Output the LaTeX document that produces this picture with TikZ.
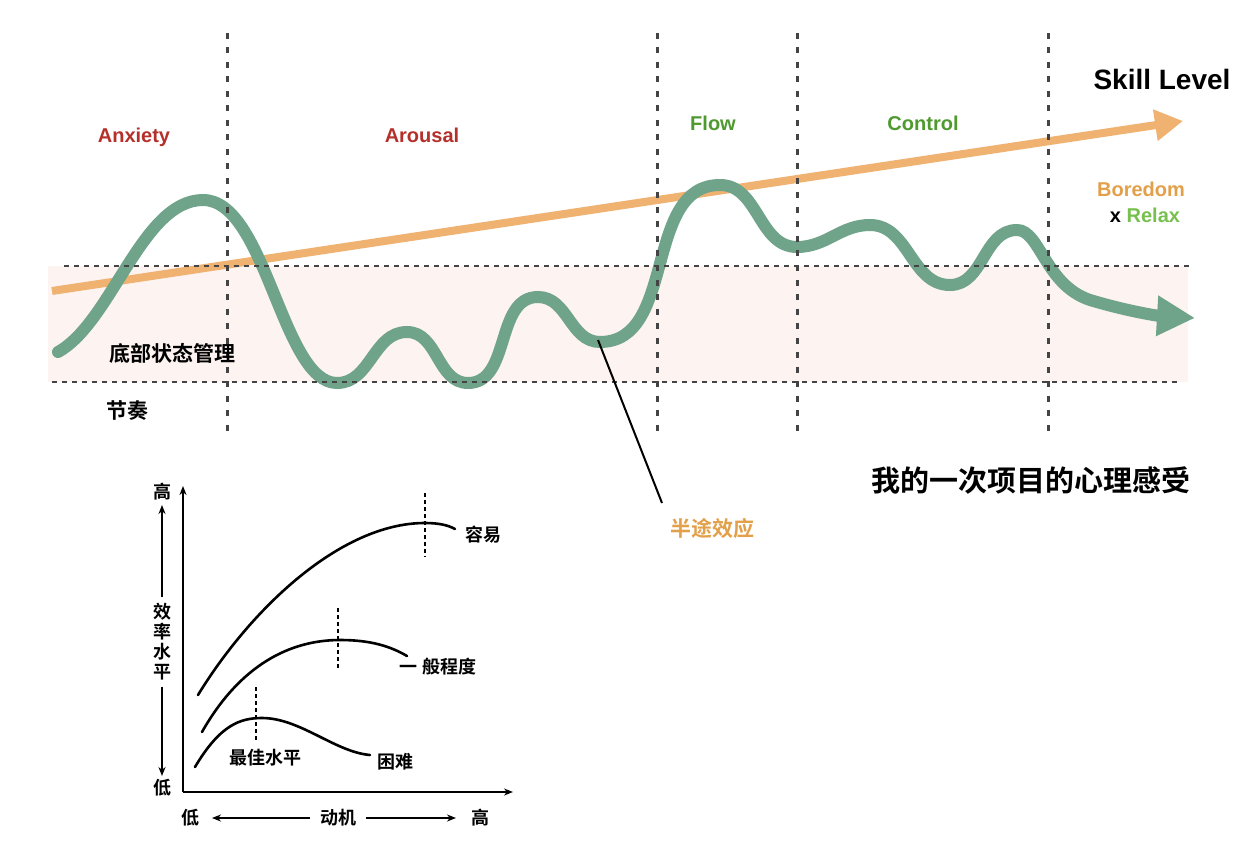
\documentclass[tikz,border=0pt]{standalone}
\usepackage{fontspec}
\setmainfont{Liberation Sans}
\newfontfamily\cjk{Noto Sans CJK SC}[BoldFont={Noto Sans CJK SC Bold}]
\usetikzlibrary{arrows.meta}
\definecolor{bandpink}{HTML}{FDF3F1}
\definecolor{dkred}{HTML}{B5302A}
\definecolor{lblgreen}{HTML}{4E9A2E}
\definecolor{relaxgreen}{HTML}{77C04F}
\definecolor{skillorange}{HTML}{F0B270}
\definecolor{txtorange}{HTML}{E3A04A}
\definecolor{curvegreen}{HTML}{6FA38A}
\definecolor{dashgray}{HTML}{444444}
\tikzset{
  lat/.style={inner sep=0pt, anchor=base, font=\bfseries\fontsize{20}{24}\selectfont},
  cjklbl/.style={inner sep=0pt, anchor=center, font=\cjk\bfseries\fontsize{21}{24}\selectfont},
  chartlbl/.style={inner sep=0pt, anchor=center, font=\cjk\bfseries\fontsize{18}{20}\selectfont},
  vdash/.style={dashgray, line width=3pt, dash pattern=on 6pt off 8.5pt},
  hdash/.style={dashgray, line width=2pt, dash pattern=on 5pt off 5pt},
  chartcurve/.style={black, line width=2.6pt, line cap=round},
  chartdash/.style={black, line width=1.6pt, dash pattern=on 4pt off 3pt},
  axisline/.style={black, line width=1.6pt},
}
\begin{document}
\begin{tikzpicture}[x=1pt,y=-1pt]
\useasboundingbox (0,0) rectangle (1244,850);
\fill[white] (0,0) rectangle (1244,850);
% band
\fill[bandpink] (48,266) rectangle (1188,382);
% skill level arrow
\draw[skillorange, line width=8pt, -{Triangle[length=28pt,width=30pt]}] (52,291) -- (1183,121);
% green curve
\draw[curvegreen, line width=12pt, line cap=round, -{Triangle[length=38pt,width=38pt]}]
  (58,352) .. controls (112,322) and (142,200) .. (203,200)
  .. controls (266,200) and (282,383) .. (337,383)
  to[out=0,in=180] (407,332) to[out=0,in=180] (468,383)
  to[out=0,in=180] (538,297) to[out=0,in=180] (600,342)
  to[out=0,in=180] (720,185) to[out=0,in=180] (797,247)
  to[out=0,in=180] (870,225) to[out=0,in=180] (950,285)
  to[out=0,in=180] (1017,230)
  .. controls (1040,230) and (1045,285) .. (1090,300)
  .. controls (1130,312) and (1160,316) .. (1195,318);
% horizontal dotted lines
\draw[hdash] (64,266) -- (1191,266);
\draw[hdash] (52,382) -- (1181,382);
% vertical dashed lines
\foreach \xx in {227,657,797,1048} {\draw[vdash] (\xx,33) -- (\xx,436);}
% labels
\node[lat, text=dkred] (anx) at (134,143) {Anxiety};
\node[lat, text=dkred] (aro) at (422,143) {Arousal};
\node[lat, text=lblgreen] (flow) at (713,131) {Flow};
\node[lat, text=lblgreen] (ctrl) at (923,131) {Control};
\node[lat, font=\bfseries\fontsize{28}{32}\selectfont] (skill) at (1162,90) {Skill Level};
\node[lat, text=txtorange] (bore) at (1141,197) {Boredom};
\node[lat] (relax) at (1145,223) {x \textcolor{relaxgreen}{Relax}};
\node[cjklbl] (bottom) at (172,353) {底部状态管理};
\node[cjklbl] (rhythm) at (127,411) {节奏};
\node[cjklbl, text=txtorange] (half) at (712,528) {半途效应};
\node[cjklbl, font=\cjk\bfseries\fontsize{29}{32}\selectfont] (title) at (1031,481) {我的一次项目的心理感受};
\coordinate (dip) at (598,340);
\coordinate (halfend) at (662,503);
\draw[black, line width=2pt] (dip) -- (halfend);
% ---- bottom chart ----
\coordinate (orig) at (183,792);
\coordinate (ytop) at (183,486);
\coordinate (xend) at (513,792);
\draw[axisline, -{Stealth[length=9pt,width=7pt]}] (orig) -- (ytop);
\draw[axisline, -{Stealth[length=9pt,width=7pt]}] (orig) -- (xend);
% curves
\draw[chartcurve] (198,695) .. controls (250,610) and (340,523) .. (425,523)
  .. controls (438,523) and (448,525) .. (455,529);
\draw[chartcurve] (202,732) .. controls (240,665) and (290,640) .. (340,640)
  .. controls (370,640) and (390,646) .. (407,656);
\draw[chartcurve] (195,767) .. controls (220,725) and (240,718) .. (262,718)
  .. controls (300,718) and (335,752) .. (370,755);
\draw[chartdash] (425,493) -- (425,557);
\draw[chartdash] (338,608) -- (338,668);
\draw[chartdash] (256,687) -- (256,740);
\node[chartlbl] (easy) at (483,535) {容易};
\node[chartlbl] (mid) at (438,667) {一 般程度};
\node[chartlbl] (best) at (265,758) {最佳水平};
\node[chartlbl] (hard) at (395,762) {困难};
% y labels
\node[chartlbl] (yhi) at (162,492) {高};
\node[chartlbl] (ylo) at (162,788) {低};
\node[chartlbl, align=center, font=\cjk\bfseries\fontsize{18}{20}\selectfont] (eff) at (162,642) {效\\率\\水\\平};
\draw[axisline, -{Stealth[length=9pt,width=7pt]}] (eff.north) ++(0,-6) -- (162,505);
\draw[axisline, -{Stealth[length=9pt,width=7pt]}] (eff.south) ++(0,6) -- (162,776);
% x labels
\node[chartlbl] (xlo) at (190,818) {低};
\node[chartlbl] (mot) at (338,818) {动机};
\node[chartlbl] (xhi) at (480,818) {高};
\draw[axisline, -{Stealth[length=9pt,width=7pt]}] (mot.west) ++(-10,0) -- (212,818);
\draw[axisline, -{Stealth[length=9pt,width=7pt]}] (mot.east) ++(10,0) -- (456,818);
\end{tikzpicture}
\end{document}
